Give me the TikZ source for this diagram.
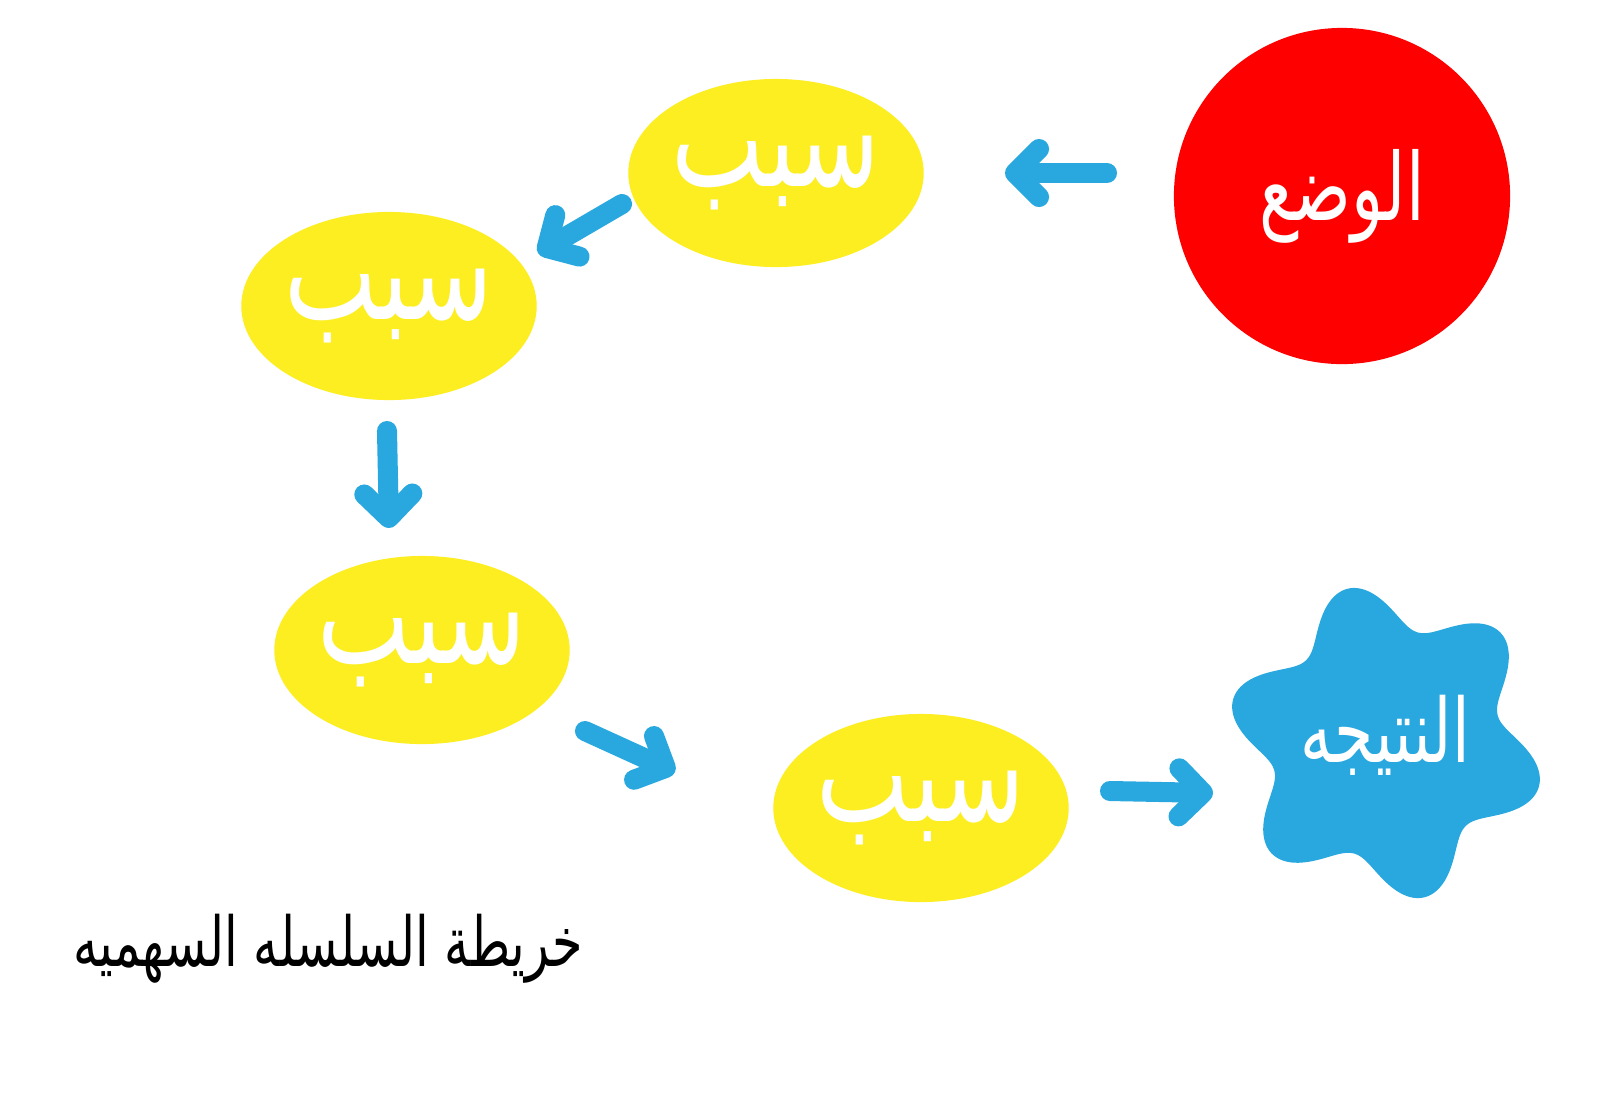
\documentclass[tikz,border=0pt]{standalone}
\usepackage{fontspec}
\newfontfamily\arabicfont[Script=Arabic]{DejaVu Sans}
\TeXXeTstate=1
\usetikzlibrary{arrows.meta,shapes.geometric}
\definecolor{sun}{HTML}{FCEE21}
\definecolor{alarm}{HTML}{FF0000}
\definecolor{sky}{HTML}{29A8E0}
\newcommand{\tallar}[1]{\scalebox{1}[1.4]{\beginR #1\endR}}
\tikzset{
  cause/.style={ellipse,fill=sun,minimum width=2.92cm,minimum height=1.88cm,inner sep=0pt,text=white,font=\arabicfont\fontsize{28}{32}\selectfont},
  flow/.style={sky,line width=5.7pt,line cap=round,-{Straight Barb[length=2.4mm,width=4.8mm,line cap=round,line join=round]}}
}

\begin{document}
\begin{tikzpicture}[x=0.01cm,y=-0.01cm]
    \useasboundingbox[fill=white] (0,0) rectangle (1600,1096);
    \node[circle,fill=alarm,minimum size=3.36cm,inner sep=0pt,text=white,font=\arabicfont\fontsize{19}{24}\selectfont] (sit) at (1342,196) {\tallar{الوضع}};
    \foreach \n/\x/\y in {c1/776/173,c2/389/306,c3/422/650,c4/921/808} {\node[cause] (\n) at (\x,\y) {\tallar{سبب}};}
    \begin{scope}[shift={(1386,743)}]
      \fill[sky] plot[domain=0:360,samples=181,smooth] (\x:{137+22*cos(6*(\x+104))}) -- cycle;
    \end{scope}
    \node[text=white,font=\arabicfont\fontsize{18}{22}\selectfont] (res) at (1385,735) {\tallar{النتيجه}};
    \node[font=\arabicfont\fontsize{14}{18}\selectfont] (title) at (328,949) {\tallar{خريطة السلسله السهميه}};
    % arrows
    \coordinate (a1s) at (1107,173); \coordinate (a1e) at (1005,173);
    \coordinate (a2s) at (622,204); \coordinate (a2e) at (538,253);
    \coordinate (a3s) at (387,431); \coordinate (a3e) at (389,528);
    \coordinate (a4s) at (585,731); \coordinate (a4e) at (675,772);
    \coordinate (a5s) at (1110,791); \coordinate (a5e) at (1213,793);
    \foreach \i in {1,...,5} {\draw[flow] (a\i s) -- (a\i e);}
  \end{tikzpicture}
\end{document}
